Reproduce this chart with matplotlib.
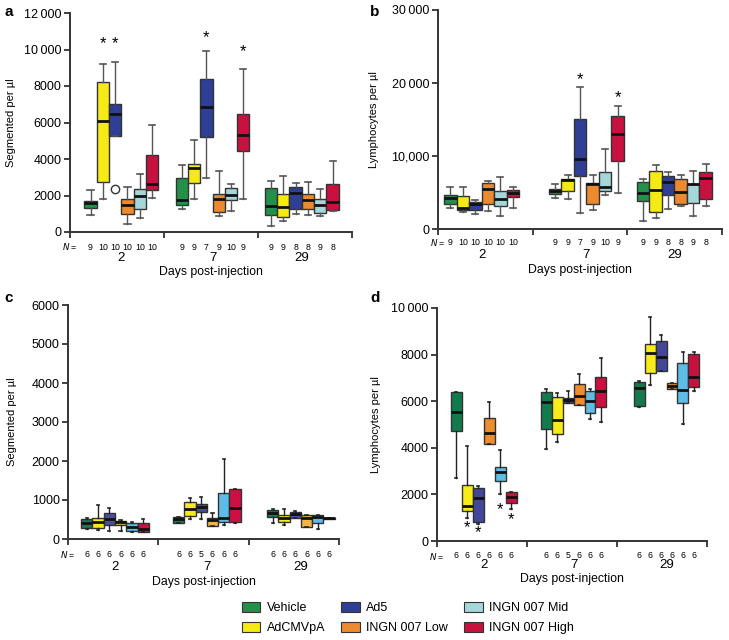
import matplotlib
matplotlib.use('Agg')
import matplotlib.pyplot as plt
from matplotlib.patches import Patch

plt.rcParams['font.family'] = ['Liberation Sans', 'DejaVu Sans']

# six treatment groups, shown in this order inside each day
treatments = ['Vehicle', 'AdCMVpA', 'Ad5', 'INGN 007 Low', 'INGN 007 Mid', 'INGN 007 High']
days = ['2', '7', '29']

# panel a: segmented per ul (day 2, day 7, day 29 x six treatments)
a_lo = [950, 1790, 5240, 460, 790, 1880, 1280, 1830, 2980, 860, 1150, 1790, 350, 600, 990, 910, 860, 1150]
a_q1 = [1300, 2740, 5240, 1000, 1280, 2320, 1460, 2680, 5200, 1100, 1740, 4440, 910, 820, 1280, 1280, 1060, 1190]
a_med = [1600, 6060, 6480, 1460, 1950, 2610, 1735, 3500, 6850, 1790, 2010, 5330, 1400, 1370, 2160, 1740, 1460, 1660]
a_q3 = [1700, 8220, 7000, 1790, 2340, 4240, 2980, 3750, 8400, 2100, 2410, 6480, 2430, 2060, 2470, 2060, 1790, 2650]
a_hi = [2320, 9220, 9300, 2470, 3160, 5880, 3650, 5060, 9920, 3340, 2610, 8950, 2800, 3050, 2700, 2740, 2360, 3870]
a_n = [9, 10, 10, 10, 10, 10, 9, 9, 7, 9, 10, 9, 9, 9, 8, 8, 9, 8]
a_fliers = {2: [2340]}
a_stars = {1: 10300, 2: 10300, 8: 10650, 11: 9900}

# panel b: lymphocytes per ul
b_lo = [2830, 2290, 2010, 2470, 1740, 2930, 4300, 4160, 2190, 2650, 4620, 4940, 1050, 1550, 2790, 3150, 1780, 3150]
b_q1 = [3470, 2650, 2560, 3470, 3150, 4390, 4850, 5210, 7270, 3470, 5210, 9330, 3800, 2330, 4620, 3470, 3570, 4160]
b_med = [4300, 2930, 3470, 5530, 4070, 4940, 5210, 6680, 9650, 6130, 5760, 13080, 4940, 5300, 6450, 5080, 6100, 7000]
b_q3 = [4710, 4480, 3700, 6360, 5170, 5400, 5490, 6810, 15130, 6310, 7820, 15450, 6450, 7960, 7220, 6810, 6200, 7820]
b_hi = [5760, 5760, 3930, 6580, 7130, 5760, 6220, 7360, 19390, 7360, 11020, 16830, 6900, 8730, 7820, 7450, 7960, 8960]
b_n = [9, 10, 10, 10, 10, 10, 9, 9, 7, 9, 10, 9, 9, 9, 8, 8, 9, 8]
b_stars = {8: 20530, 11: 18020}

# panel c: segmented per ul
c_lo = [248, 231, 205, 213, 171, 171, 402, 505, 505, 342, 359, 402, 402, 359, 530, 300, 248, 505]
c_q1 = [274, 274, 359, 359, 205, 171, 402, 590, 701, 342, 444, 444, 572, 444, 530, 300, 402, 505]
c_med = [402, 428, 505, 428, 316, 256, 513, 761, 812, 487, 530, 786, 658, 547, 641, 530, 556, 530]
c_q3 = [505, 530, 658, 470, 419, 419, 572, 940, 889, 547, 1171, 1274, 744, 615, 701, 615, 615, 547]
c_hi = [530, 872, 803, 487, 444, 505, 572, 1043, 1068, 658, 2043, 1274, 761, 769, 726, 615, 615, 547]
c_n = [6, 6, 6, 6, 6, 6, 6, 6, 5, 6, 6, 6, 6, 6, 6, 6, 6, 6]

# panel d: lymphocytes per ul
d_lo = [2720, 970, 730, 4180, 2030, 1360, 3950, 4260, 5940, 5840, 5220, 5110, 5760, 6700, 7310, 6510, 5020, 6450]
d_q1 = [4720, 1290, 800, 4180, 2580, 1620, 4810, 4590, 5940, 5840, 5480, 5760, 5790, 7200, 7310, 6510, 5940, 6600]
d_med = [5550, 1500, 1860, 4650, 2950, 1880, 5980, 5190, 6050, 6240, 6020, 6440, 6580, 8080, 7880, 6650, 6480, 7050]
d_q3 = [6390, 2400, 2260, 5290, 3190, 2120, 6410, 6180, 6120, 6720, 6440, 7050, 6840, 8440, 8600, 6770, 7630, 8030]
d_hi = [6390, 4080, 2360, 5950, 3910, 2120, 6510, 6370, 6450, 7170, 6540, 7840, 6870, 9600, 8840, 6770, 8120, 8100]
d_n = [6, 6, 6, 6, 6, 6, 6, 6, 5, 6, 6, 6, 6, 6, 6, 6, 6, 6]
d_stars = {1: 560, 2: 370, 4: 1360, 5: 930}

colors_top = ['#23914a', '#f5ea14', '#2f3f96', '#ee8a2e', '#a5d7da', '#c8113f']
colors_c = ['#1a7a55', '#f7ec1a', '#4c4c9e', '#f3b445', '#5dbde8', '#cc1044']
colors_d = ['#137a4e', '#f7ec1a', '#43479a', '#ef8c2c', '#5dbde8', '#c8113f']

TS = '\u2009'


def draw_panel(ax, lo, q1, med, q3, hi, n, colors, centers, step, ymax, yticks,
               ylabels, ylabel, stars, caps, whisk, offs, fliers=None):
    pos = [centers[i // 6] + (i % 6 - 2.5) * step for i in range(18)]
    stats = []
    for i in range(18):
        stats.append(dict(med=med[i], q1=q1[i], q3=q3[i], whislo=lo[i],
                          whishi=hi[i], fliers=(fliers or {}).get(i, [])))
    res = ax.bxp(stats, positions=pos, widths=step, patch_artist=True,
                 capwidths=caps, manage_ticks=False,
                 boxprops=dict(edgecolor='#333333', linewidth=1.0),
                 medianprops=dict(color='#111111', linewidth=2.0),
                 whiskerprops=dict(color=whisk, linewidth=1.0),
                 capprops=dict(color=whisk, linewidth=1.2),
                 flierprops=dict(marker='o', markerfacecolor='white',
                                 markeredgecolor='#333333', markersize=6))
    for i, b in enumerate(res['boxes']):
        b.set_facecolor(colors[i % 6])
    for i, yv in stars.items():
        ax.text(pos[i], yv, '*', ha='center', va='center', fontsize=12)

    ax.set_xlim(-0.5, 2.5)
    ax.set_ylim(0, ymax)
    ax.set_yticks(yticks)
    ax.set_yticklabels(ylabels)
    ax.set_xticks([-0.5, 0.5, 1.5, 2.5])
    ax.set_xticklabels([])
    for s in ['top', 'right']:
        ax.spines[s].set_visible(False)
    for s in ['left', 'bottom']:
        ax.spines[s].set_linewidth(1.4)
        ax.spines[s].set_color('#333333')
    ax.tick_params(direction='out', length=4, width=1.3, color='#333333',
                   labelsize=9, pad=2)
    ax.set_ylabel(ylabel, fontsize=8)

    tr = ax.get_xaxis_transform()
    ax.annotate('$N$ =', xy=(-0.5, 0), xycoords=tr, xytext=(0, -offs[0]),
                textcoords='offset points', ha='center', va='center', fontsize=6.3)
    for i in range(18):
        ax.annotate(str(n[i]), xy=(pos[i], 0), xycoords=tr, xytext=(0, -offs[0]),
                    textcoords='offset points', ha='center', va='center', fontsize=6.3)
    for g in range(3):
        ax.annotate(days[g], xy=(centers[g], 0), xycoords=tr, xytext=(0, -offs[1]),
                    textcoords='offset points', ha='center', va='center', fontsize=9.5)
    ax.annotate('Days post-injection', xy=(1.0, 0), xycoords=tr, xytext=(0, -offs[2]),
                textcoords='offset points', ha='center', va='center', fontsize=8.8)
    return res


fig = plt.figure(figsize=(7.29, 6.4), dpi=100)
W, H = 729, 640


def rect(l, r, b, t):
    return [l / W, 1 - b / H, (r - l) / W, (b - t) / H]


ax_a = fig.add_axes(rect(70, 352, 232, 13))
ax_b = fig.add_axes(rect(438, 722, 229, 10))
ax_c = fig.add_axes(rect(68, 339, 539, 305))
ax_d = fig.add_axes(rect(437, 707, 541, 308))

draw_panel(ax_a, a_lo, a_q1, a_med, a_q3, a_hi, a_n, colors_top,
           [0.046, 1.016, 1.966], 0.131, 12000, range(0, 12001, 2000),
           ['0', '2000', '4000', '6000', '8000', '10' + TS + '000', '12' + TS + '000'],
           'Segmented per µl', a_stars, 0.065, '#555555', (10.8, 18.7, 28.8),
           fliers=a_fliers)
draw_panel(ax_b, b_lo, b_q1, b_med, b_q3, b_hi, b_n, colors_top,
           [-0.04, 1.068, 1.997], 0.132, 30000, [0, 10000, 20000, 30000],
           ['0', '10,000', '20' + TS + '000', '30' + TS + '000'],
           'Lymphocytes per µl', b_stars, 0.065, '#555555', (10.0, 18.7, 29.5))
draw_panel(ax_c, c_lo, c_q1, c_med, c_q3, c_hi, c_n, colors_c,
           [0.02, 1.037, 2.078], 0.125, 6000, range(0, 6001, 1000),
           [str(v) for v in range(0, 6001, 1000)],
           'Segmented per µl', {}, 0.025, '#222222', (11.5, 20.0, 31.0))
draw_panel(ax_d, d_lo, d_q1, d_med, d_q3, d_hi, d_n, colors_d,
           [0.018, 1.017, 2.05], 0.122, 10000, range(0, 10001, 2000),
           ['0', '2000', '4000', '6000', '8000', '10' + TS + '000'],
           'Lymphocytes per µl', d_stars, 0.025, '#222222', (10.8, 17.3, 27.4))

ax_a.yaxis.set_label_coords(-0.191, 0.5)
ax_b.yaxis.set_label_coords(-0.208, 0.5)
ax_c.yaxis.set_label_coords(-0.188, 0.5)
ax_d.yaxis.set_label_coords(-0.207, 0.5)

for lbl, x, y in [('a', 9, 12), ('b', 375, 12), ('c', 9, 298), ('d', 375, 298)]:
    fig.text(x / W, 1 - y / H, lbl, fontsize=11, fontweight='bold',
             ha='center', va='center')

# legend, filled column by column
legend_colors = ['#23914a', '#f5ea14', '#2f3f96', '#ee8a2e', '#a5d7da', '#c8113f']
handles = [Patch(facecolor=c, edgecolor='#333333', linewidth=0.8) for c in legend_colors]
fig.legend(handles, treatments, ncol=3, loc='center', bbox_to_anchor=(408 / W, 1 - 618 / H),
           frameon=False, fontsize=9, handlelength=1.45, handleheight=0.9,
           columnspacing=1.3, labelspacing=0.6, handletextpad=0.55)

fig.savefig('out.png', dpi=100)
